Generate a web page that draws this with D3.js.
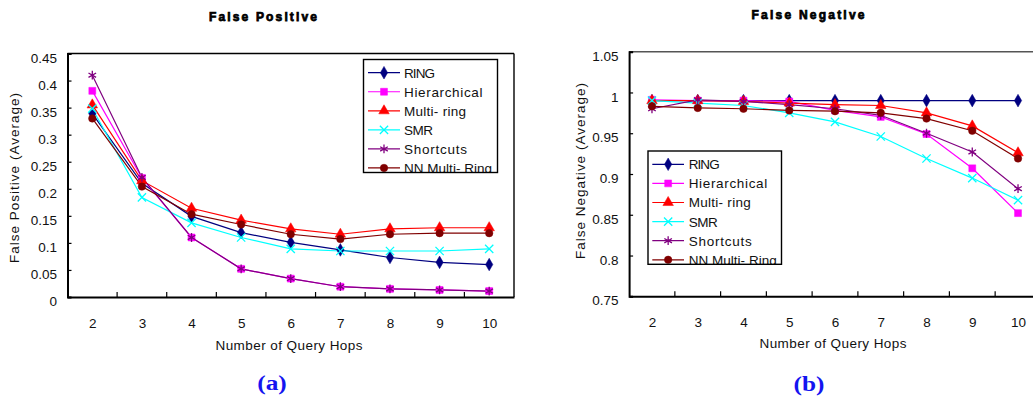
<!DOCTYPE html>
<html><head><meta charset="utf-8">
<script src="https://cdn.jsdelivr.net/npm/d3@7"></script>
<style>
body{margin:0;background:#fff;}
svg{display:block;}
</style></head>
<body>
<svg id="chart" width="1033" height="399"></svg>
<script>
// ---------- data ----------
const categories = ["2","3","4","5","6","7","8","9","10"];
const seriesNames = ["RING","Hierarchical","Multi- ring","SMR","Shortcuts","NN Multi- Ring"];
const seriesColors = ["#000080","#ff00ff","#ff0000","#00ffff","#800080","#800000"];
const seriesSymbols = ["diamond","square","triangle","times","asterisk","circle"];

const fpTicks = [0,0.05,0.1,0.15,0.2,0.25,0.3,0.35,0.4,0.45];
const fnTicks = [0.75,0.8,0.85,0.9,0.95,1,1.05];

// False Positive (a)
const fpRing   = [0.339,0.210,0.149,0.119,0.101,0.087,0.073,0.064,0.060];
const fpHier   = [0.381,0.220,0.110,0.052,0.034,0.019,0.015,0.013,0.011];
const fpMulti  = [0.355,0.215,0.164,0.142,0.126,0.116,0.126,0.128,0.128];
const fpSMR    = [0.348,0.184,0.137,0.110,0.089,0.085,0.085,0.085,0.089];
const fpShort  = [0.410,0.221,0.110,0.052,0.034,0.019,0.015,0.013,0.011];
const fpNN     = [0.330,0.204,0.153,0.134,0.116,0.107,0.116,0.118,0.118];

// False Negative (b)
const fnRing   = [0.990,0.990,0.990,0.990,0.990,0.990,0.990,0.990,0.990];
const fnHier   = [0.991,0.990,0.990,0.989,0.978,0.970,0.949,0.907,0.852];
const fnMulti  = [0.990,0.990,0.989,0.987,0.985,0.984,0.975,0.959,0.926];
const fnSMR    = [0.990,0.987,0.984,0.975,0.964,0.946,0.919,0.895,0.868];
const fnShort  = [0.980,0.991,0.989,0.985,0.980,0.972,0.950,0.927,0.882];
const fnNN     = [0.983,0.981,0.980,0.978,0.977,0.975,0.968,0.953,0.919];

// layout: rendered widths of legend labels (px)
const legendTextWidths = [31,78.5,62,29,63,88];

const SANS = "'Liberation Sans', Arial, sans-serif";
const SERIF = "'Liberation Serif', 'Times New Roman', serif";
const svg = d3.select("#chart");

function fixWidth(sel, w){ sel.attr("textLength", w).attr("lengthAdjust","spacing"); return sel; }

function symbolFor(name){
  return {diamond:d3.symbolDiamond, square:d3.symbolSquare, triangle:d3.symbolTriangle,
          times:d3.symbolTimes, asterisk:d3.symbolAsterisk, circle:d3.symbolCircle}[name];
}
const symbolSize = {diamond:46, square:48, triangle:48, times:46, asterisk:54, circle:44};
function drawMarker(g, name, color, x, y){
  const stroked = (name==="times"||name==="asterisk");
  g.append("path")
    .attr("d", d3.symbol().type(symbolFor(name)).size(symbolSize[name])())
    .attr("transform", `translate(${x},${y})`)
    .attr("fill", stroked ? "none" : color)
    .attr("stroke", color)
    .attr("stroke-width", stroked ? 1.3 : 0.5);
}

function drawPanel(cfg){
  const g = svg.append("g");
  const x = d3.scalePoint().domain(categories).range([cfg.left, cfg.right]).padding(0.5);
  const y = d3.scaleLinear().domain(cfg.yDomain).range([cfg.bottom, cfg.top]);

  // frame (top / right)
  g.append("line").attr("x1",cfg.left).attr("x2",cfg.right).attr("y1",cfg.top).attr("y2",cfg.top)
    .attr("stroke",cfg.frameColor).attr("stroke-width",1.4);
  g.append("line").attr("x1",cfg.right).attr("x2",cfg.right).attr("y1",cfg.top).attr("y2",cfg.bottom)
    .attr("stroke",cfg.frameColor).attr("stroke-width",1.4);

  // y axis
  const ya = g.append("g").attr("transform",`translate(${cfg.left},0)`)
    .call(d3.axisLeft(y).tickValues(cfg.yTicks).tickSize(-4).tickPadding(10.5).tickFormat(d=>String(+d.toFixed(2))));
  ya.select(".domain").attr("stroke","#000").attr("stroke-width",2);
  ya.selectAll(".tick line").attr("stroke","#000").attr("stroke-width",1.2);
  ya.selectAll(".tick text").style("font-size","13.5px").attr("fill","#111").attr("dy","0.64em")
    .style("font-family",SANS);

  // x axis (labels at categories, ticks between)
  const xa = g.append("g").attr("transform",`translate(0,${cfg.bottom})`)
    .call(d3.axisBottom(x).tickSize(0).tickPadding(21.5));
  xa.select(".domain").attr("stroke","#000").attr("stroke-width",2);
  xa.selectAll(".tick text").style("font-size","13.5px").attr("fill","#111").style("font-family",SANS);
  const step = x.step();
  categories.slice(0,-1).forEach(c=>{
    const bx = x(c) + step/2;
    g.append("line").attr("x1",bx).attr("x2",bx).attr("y1",cfg.bottom).attr("y2",cfg.bottom-5)
      .attr("stroke","#000").attr("stroke-width",1.2);
  });

  // series
  const line = d3.line().x((d,i)=>x(categories[i])).y(d=>y(d));
  cfg.series.forEach((vals,si)=>{
    g.append("path").datum(vals).attr("d",line).attr("fill","none")
      .attr("stroke",seriesColors[si]).attr("stroke-width",1.2);
  });
  cfg.series.forEach((vals,si)=>{
    vals.forEach((v,i)=> drawMarker(g, seriesSymbols[si], seriesColors[si], x(categories[i]), y(v)));
  });

  // titles
  fixWidth(g.append("text").attr("x",cfg.titleX).attr("y",cfg.titleY).attr("text-anchor","middle")
    .style("font-size","12px").style("font-weight","bold").style("font-family",SANS).attr("fill","#000")
    .attr("stroke","#000").attr("stroke-width",0.75).text(cfg.title), cfg.titleW);
  fixWidth(g.append("text").attr("transform",`translate(${cfg.yTitleX},${cfg.yTitleY}) rotate(-90)`)
    .attr("text-anchor","middle").style("font-size","13.5px").style("font-family",SANS).attr("fill","#111")
    .text(cfg.yTitle), cfg.yTitleW);
  fixWidth(g.append("text").attr("x",cfg.xTitleX).attr("y",cfg.xTitleY).attr("text-anchor","middle")
    .style("font-size","13.5px").style("font-family",SANS).attr("fill","#111").text("Number of Query Hops"), 147);
  g.append("text").attr("transform",`translate(${cfg.capX},${cfg.capY}) scale(1.15,1)`).attr("text-anchor","middle")
    .style("font-size","22px").style("font-weight","bold").attr("fill","#1414f0")
    .style("font-family",SERIF).text(cfg.caption);

  // legend
  const L = cfg.legend;
  const clipId = "clip" + cfg.caption.replace(/\W/g,"");
  g.append("clipPath").attr("id",clipId).append("rect")
    .attr("x",L.x).attr("y",L.y).attr("width",L.w).attr("height",L.h);
  g.append("rect").attr("x",L.x).attr("y",L.y).attr("width",L.w).attr("height",L.h).attr("fill","#fff");
  const lg = g.append("g").attr("clip-path",`url(#${clipId})`);
  seriesNames.forEach((nm,si)=>{
    const cy = L.y + L.first + si*L.gap;
    lg.append("line").attr("x1",L.x+L.lx1).attr("x2",L.x+L.lx2).attr("y1",cy).attr("y2",cy)
      .attr("stroke",seriesColors[si]).attr("stroke-width",1.2);
    drawMarker(lg, seriesSymbols[si], seriesColors[si], L.x+(L.lx1+L.lx2)/2, cy);
    fixWidth(lg.append("text").attr("x",L.x+L.tx).attr("y",cy+4.9).style("font-size","13.5px")
      .style("font-family",SANS).attr("fill","#111").text(nm), legendTextWidths[si]);
  });
  g.append("rect").attr("x",L.x).attr("y",L.y).attr("width",L.w).attr("height",L.h)
    .attr("fill","none").attr("stroke","#000").attr("stroke-width",1.4);
}

drawPanel({
  left:67.5, right:514, top:53.5, bottom:297,
  yDomain:[0,0.45], yTicks:fpTicks, frameColor:"#000",
  series:[fpRing,fpHier,fpMulti,fpSMR,fpShort,fpNN],
  title:"False Positive", titleX:263, titleY:20.5, titleW:108,
  yTitle:"False Positive (Average)", yTitleX:18.8, yTitleY:178, yTitleW:170,
  xTitleX:289, xTitleY:349.5,
  caption:"(a)", capX:272, capY:390,
  legend:{x:363.5, y:59.5, w:134, h:113, first:13.2, gap:19.05, lx1:4.5, lx2:36.5, tx:40.5}
});

drawPanel({
  left:629.1, right:1040.9, top:51.7, bottom:296.3,
  yDomain:[0.75,1.05], yTicks:fnTicks, frameColor:"#555",
  series:[fnRing,fnHier,fnMulti,fnSMR,fnShort,fnNN],
  title:"False Negative", titleX:808, titleY:19, titleW:113,
  yTitle:"False Negative (Average)", yTitleX:584.8, yTitleY:171, yTitleW:176,
  xTitleX:833, xTitleY:348,
  caption:"(b)", capX:809, capY:391,
  legend:{x:648, y:151, w:133.5, h:113.3, first:13.3, gap:19.1, lx1:4.3, lx2:36, tx:40.7}
});
</script>
</body></html>
